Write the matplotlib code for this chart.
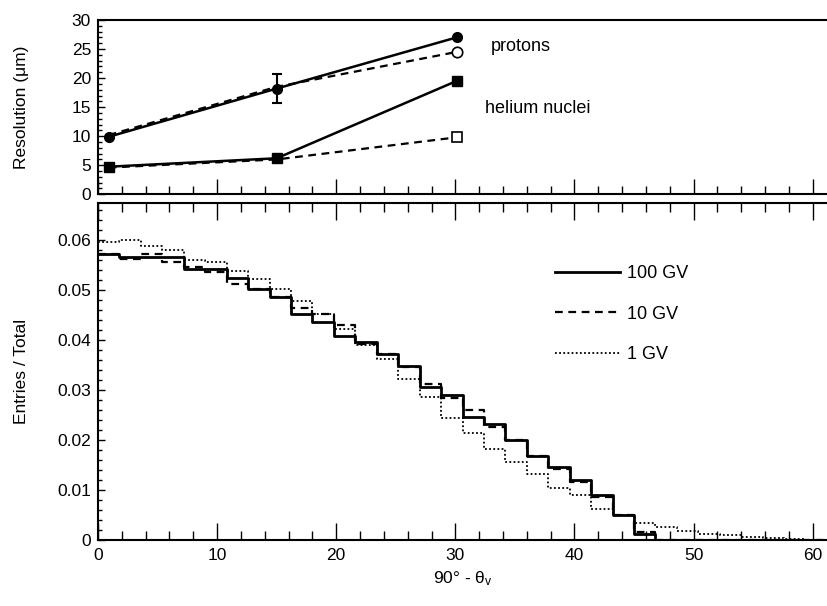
import numpy as np
import matplotlib
matplotlib.use("Agg")
import matplotlib.pyplot as plt
from matplotlib.ticker import MultipleLocator, NullFormatter

plt.rcParams['font.family'] = ['Liberation Sans', 'DejaVu Sans']
plt.rcParams['mathtext.fontset'] = 'custom'
plt.rcParams['mathtext.rm'] = 'Liberation Sans'
plt.rcParams['mathtext.it'] = 'Liberation Sans:italic'

# ---- top panel data ----
angles = [0.9, 15.0, 30.1]
p_solid = [9.9, 18.2, 27.0]
p_dashed = [10.2, 18.5, 24.5]
p_err = [0, 2.45, 0]
he_solid = [4.75, 6.2, 19.5]
he_dashed = [4.6, 6.0, 9.8]

# ---- bottom panel data ----
bin_width = 1.8
h100 = [0.0573, 0.0567, 0.0567, 0.0566, 0.0543, 0.0543, 0.0525, 0.0502, 0.0487, 0.0453,
        0.0436, 0.0408, 0.0396, 0.0373, 0.0349, 0.0306, 0.0291, 0.0246, 0.0233, 0.0201,
        0.0168, 0.0147, 0.0121, 0.0091, 0.0051, 0.0013, 0, 0, 0, 0, 0, 0, 0, 0]
h10 = [0.0572, 0.0563, 0.0572, 0.0557, 0.0547, 0.0537, 0.0512, 0.0502, 0.0487, 0.0465,
       0.0453, 0.0431, 0.0392, 0.0373, 0.0347, 0.0312, 0.0285, 0.0260, 0.0227, 0.0201,
       0.0168, 0.0143, 0.0117, 0.0087, 0.0051, 0.0017, 0, 0, 0, 0, 0, 0, 0, 0]
h1 = [0.0597, 0.0601, 0.0588, 0.0580, 0.0561, 0.0557, 0.0538, 0.0522, 0.0503, 0.0478,
      0.0453, 0.0422, 0.0390, 0.0363, 0.0323, 0.0287, 0.0245, 0.0215, 0.0183, 0.0157,
      0.0133, 0.0104, 0.0090, 0.0063, 0.0050, 0.0035, 0.0027, 0.0019, 0.0013, 0.0010,
      0.0007, 0.0004, 0.0002, 0.0001]
legend_labels = ['100 GV', '10 GV', '1 GV']

W, H = 827, 606
fig = plt.figure(figsize=(W / 100, H / 100), dpi=100)
left = 98 / W
ax1 = fig.add_axes([left, 1 - 194.3 / H, 1 - left, (194.3 - 20) / H])
ax2 = fig.add_axes([left, 1 - 540 / H, 1 - left, (540 - 202.7) / H])

FS = 12.5
XMAX = 61.2

# top panel
ax1.plot(angles, p_dashed, ls=(0, (3.5, 2.5)), color='black', lw=1.6)
ax1.plot(angles[-1:], p_dashed[-1:], 'o', mfc='white', mec='black', ms=7.5, mew=1.2)
ax1.errorbar(angles, p_solid, yerr=p_err, color='black', lw=1.8, marker='o', ms=7,
             capsize=3.6, capthick=1.5, elinewidth=1.5)
ax1.plot(angles, he_dashed, ls=(0, (3.5, 2.5)), color='black', lw=1.6)
ax1.plot(angles[-1:], he_dashed[-1:], 's', mfc='white', mec='black', ms=7.5, mew=1.2)
ax1.plot(angles, he_solid, color='black', lw=1.8, marker='s', ms=7)
ax1.text(33.0, 25.4, 'protons', fontsize=FS + 0.5, va='center', ha='left')
ax1.text(32.5, 14.8, 'helium nuclei', fontsize=FS + 0.5, va='center', ha='left')

ax1.set_xlim(0, XMAX)
ax1.set_ylim(0, 30)
ax1.yaxis.set_major_locator(MultipleLocator(5))
ax1.yaxis.set_minor_locator(MultipleLocator(1))
ax1.xaxis.set_major_locator(MultipleLocator(10))
ax1.xaxis.set_minor_locator(MultipleLocator(2))
ax1.xaxis.set_major_formatter(NullFormatter())
ax1.tick_params(axis='x', which='major', direction='in', length=11, width=1.0, bottom=True, top=False)
ax1.tick_params(axis='x', which='minor', direction='in', length=5.5, width=1.0, bottom=True, top=False)
ax1.tick_params(axis='y', which='major', direction='in', length=5, width=1.0, labelsize=FS, pad=5)
ax1.tick_params(axis='y', which='minor', direction='in', length=3, width=1.0)
ax1.set_ylabel('Resolution (μm)', fontsize=FS)
ax1.spines['right'].set_visible(False)
for s in ['left', 'top', 'bottom']:
    ax1.spines[s].set_linewidth(1.5)

# bottom panel
edges = np.arange(len(h100) + 1) * bin_width
def stepvals(v):
    return np.append(v, v[-1])
l1, = ax2.step(edges, stepvals(h1), where='post', color='black', lw=1.3, ls=(0, (1, 1.3)))
l10, = ax2.step(edges, stepvals(h10), where='post', color='black', lw=1.6, ls=(0, (3.5, 2.5)))
l100, = ax2.step(edges, stepvals(h100), where='post', color='black', lw=2.0)

ax2.legend([l100, l10, l1], legend_labels, loc='upper left', bbox_to_anchor=(0.627, 0.815),
           frameon=False, fontsize=FS + 0.5, handlelength=3.6, handletextpad=0.4,
           labelspacing=1.3, borderpad=0, borderaxespad=0)

ax2.set_xlim(0, XMAX)
ax2.set_ylim(0, 0.0675)
ax2.yaxis.set_major_locator(MultipleLocator(0.01))
ax2.yaxis.set_minor_locator(MultipleLocator(0.002))
ax2.xaxis.set_major_locator(MultipleLocator(10))
ax2.xaxis.set_minor_locator(MultipleLocator(2))
ax2.yaxis.set_major_formatter(matplotlib.ticker.FuncFormatter(lambda v, p: '0' if abs(v) < 1e-9 else f'{v:.2f}'))
ax2.tick_params(axis='x', which='major', direction='in', length=12, width=1.0, top=True, bottom=True, labelsize=FS, pad=6)
ax2.tick_params(axis='x', which='minor', direction='in', length=6.5, width=1.0, top=True, bottom=True)
ax2.tick_params(axis='y', which='major', direction='in', length=5, width=1.0, labelsize=FS, pad=5)
ax2.tick_params(axis='y', which='minor', direction='in', length=3, width=1.0)
ax2.set_ylabel('Entries / Total', fontsize=FS, labelpad=10)
ax2.set_xlabel('90° - θ$_\\mathrm{v}$', fontsize=FS, labelpad=4)
ax2.spines['right'].set_visible(False)
for s in ['left', 'top', 'bottom']:
    ax2.spines[s].set_linewidth(1.5)

ax1.yaxis.set_label_coords(-0.095, 0.5)
ax2.yaxis.set_label_coords(-0.095, 0.5)

fig.savefig('out.png', dpi=100)
